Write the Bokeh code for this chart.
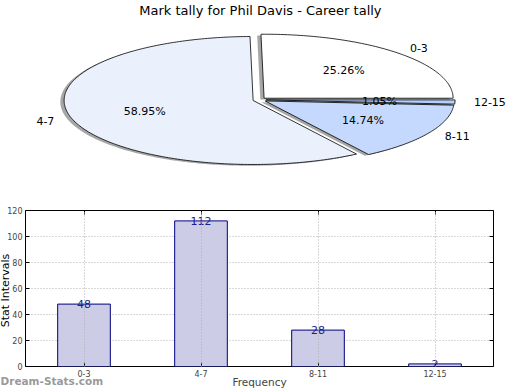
import numpy as np
from bokeh.plotting import figure
from bokeh.layouts import column
from bokeh.models import (ColumnDataSource, Range1d, FactorRange, Label,
                          FixedTicker, LinearAxis, CategoricalAxis)
from bokeh.core.properties import value
from bokeh.embed import file_html
from bokeh.resources import INLINE

# ---------------- data ----------------
title_text = "Mark tally for Phil Davis - Career tally"
categories = ["0-3", "4-7", "8-11", "12-15"]
counts = [48, 112, 28, 2]
pie_colors = ["#ffffff", "#eaf1fd", "#c5d8fd", "#b3d1fb"]
y_ticks = [0, 20, 40, 60, 80, 100, 120]
x_title = "Frequency"
y_title = "Stat Intervals"
watermark = "Dream-Stats.com"

FONT = "DejaVu Sans"
W = 520
PIE_H = 195
BAR_H = 195

# ---------------- pie ----------------
total = float(sum(counts))
fracs = [c / total for c in counts]
explode = 0.035
shadow_off = 0.02

pie = figure(width=W, height=PIE_H,
             x_range=Range1d(-1.370, 1.381), y_range=Range1d(-1.495, 1.552),
             x_axis_type=None, y_axis_type=None,
             output_backend="svg", toolbar_location=None, min_border=0)
pie.frame_align = False
pie.outline_line_color = None
pie.grid.visible = False

wx, wy, sx, sy = [], [], [], []
lab_x, lab_y, lab_t, lab_align = [], [], [], []
pct_x, pct_y, pct_t = [], [], []
start = 0.0
for cat, frac in zip(categories, fracs):
    t1 = start
    t2 = start + 2 * np.pi * frac
    mid = 0.5 * (t1 + t2)
    dx, dy = explode * np.cos(mid), explode * np.sin(mid)
    n = max(3, int(np.degrees(t2 - t1)) + 2)
    th = np.linspace(t1, t2, n)
    px = np.concatenate([[0.0], np.cos(th)]) + dx
    py = np.concatenate([[0.0], np.sin(th)]) + dy
    wx.append(list(px)); wy.append(list(py))
    sx.append(list(px - shadow_off)); sy.append(list(py - shadow_off))
    lab_x.append(1.1 * np.cos(mid) + dx)
    lab_y.append(1.1 * np.sin(mid) + dy)
    lab_t.append(cat)
    lab_align.append("left" if np.cos(mid) > 0 else "right")
    pct_x.append(0.6 * np.cos(mid) + dx)
    pct_y.append(0.6 * np.sin(mid) + dy)
    pct_t.append("%.2f%%" % (100 * frac))
    start = t2

pie.patches(xs=sx, ys=sy, fill_color="#4d4d4d", fill_alpha=0.5, line_color=None)
pie.patches(xs=wx, ys=wy, fill_color=pie_colors, line_color="black", line_width=0.8)

lab_src = ColumnDataSource(dict(x=lab_x, y=lab_y, t=lab_t, a=lab_align))
pie.text(x="x", y="y", text="t", text_align="a", text_baseline="middle",
         source=lab_src, text_font=value(FONT), text_font_size="11px",
         text_color="black")
pct_src = ColumnDataSource(dict(x=pct_x, y=pct_y, t=pct_t))
pie.text(x="x", y="y", text="t", text_align="center", text_baseline="middle",
         source=pct_src, text_font=value(FONT), text_font_size="11px",
         text_color="black")

pie.add_layout(Label(x=0.005, y=1.395, text=title_text, text_align="center",
                     text_baseline="middle", text_font=FONT,
                     text_font_size="13px", text_color="black"))

# ---------------- bar ----------------
bar = figure(width=W, height=BAR_H,
             x_range=FactorRange(factors=categories, range_padding=0),
             y_range=Range1d(0, 120),
             output_backend="svg", toolbar_location=None,
             min_border_left=25, min_border_right=27,
             min_border_top=15, min_border_bottom=21)
bar.frame_align = False

bar.vbar(x=categories, top=counts, width=0.45, fill_color="#ccccE6",
         line_color="#000080", line_width=1)
bar.text(x=categories, y=counts, text=[str(c) for c in counts],
         text_align="center", text_baseline="alphabetic",
         text_font=value(FONT), text_font_size="11px", text_color="#1c1c8c")

bar.outline_line_color = "black"
bar.outline_line_width = 1
bar.outline_line_alpha = 1

for g in (bar.xgrid, bar.ygrid):
    g.grid_line_color = "#b0b0b0"
    g.grid_line_dash = "1 2"
    g.grid_line_width = 1
bar.xgrid.level = "overlay"

ya = bar.yaxis[0]
ya.ticker = FixedTicker(ticks=y_ticks)
ya.major_tick_in = 4
ya.major_tick_out = 0
ya.minor_tick_line_color = None
ya.axis_line_color = None
ya.major_label_text_font_size = "8px"
ya.major_label_text_font = FONT
ya.major_label_standoff = 3

xa = bar.xaxis[0]
xa.major_tick_in = 4
xa.major_tick_out = 0
xa.axis_line_color = None
xa.major_label_text_font_size = "8px"
xa.major_label_text_font = FONT
xa.major_label_standoff = 3
xa.axis_label = x_title
xa.axis_label_text_font = FONT
xa.axis_label_text_font_size = "10.5px"
xa.axis_label_text_font_style = "normal"
xa.axis_label_standoff = -4

# mirrored tick marks on the right and top edges (no labels)
ra = LinearAxis(ticker=FixedTicker(ticks=y_ticks), major_tick_in=4,
                major_tick_out=0, minor_tick_line_color=None,
                axis_line_color=None, major_label_text_color=None,
                major_label_text_font_size="1px", major_label_standoff=0)
bar.add_layout(ra, "right")
ta = CategoricalAxis(major_tick_in=4, major_tick_out=0, axis_line_color=None,
                     major_label_text_color=None,
                     major_label_text_font_size="1px", major_label_standoff=0)
bar.add_layout(ta, "above")

# labels placed in side panels (not clipped), positioned in canvas pixels
bar.add_layout(Label(x=0, y=185, x_units="canvas", y_units="canvas",
                     text=watermark, text_align="left", text_baseline="middle",
                     text_font=FONT, text_font_style="bold",
                     text_font_size="10.5px", text_color="#8c8c8c",
                     text_alpha=0.9), "above")
bar.add_layout(Label(x=5, y=95, x_units="canvas", y_units="canvas",
                     text=y_title, angle=90, angle_units="deg",
                     text_align="center", text_baseline="alphabetic",
                     text_font=FONT, text_font_size="11px",
                     text_color="black"), "right")

layout = column(pie, bar, spacing=0)
open("out.html", "w").write(file_html(layout, INLINE))
